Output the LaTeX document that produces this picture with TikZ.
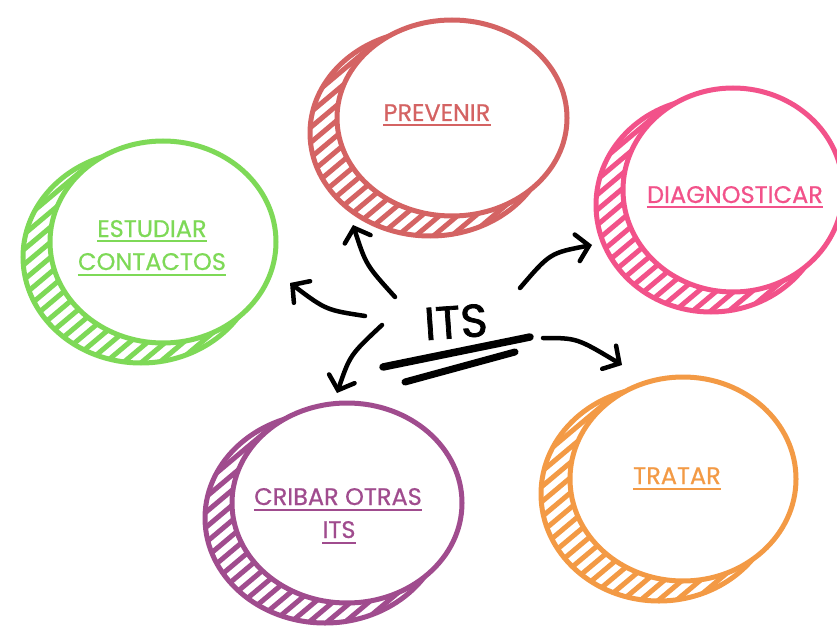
\documentclass[tikz,border=0pt]{standalone}
\usepackage{fontspec}
\setmainfont{Poppins}
\newfontfamily\lblfont[FakeBold=0.6]{Poppins}
\newfontfamily\itsfont[FakeBold=1.6]{Poppins}
\usetikzlibrary{arrows.meta}
\definecolor{cred}{HTML}{D46363}
\definecolor{cpink}{HTML}{F2528A}
\definecolor{corange}{HTML}{F39A45}
\definecolor{cpurple}{HTML}{A04C8E}
\definecolor{cgreen}{HTML}{7ED957}
\newcommand{\blob}[9]{%
  \begin{scope}
    \clip (#5,#6) ellipse [x radius=#7, y radius=#8];
    \foreach \k in {-324,-306,...,324}
      \draw[#9, line width=5pt] ({#5+\k-150},{#6+126}) -- ({#5+\k+150},{#6-126});
  \end{scope}
  \draw[#9, line width=5pt] (#5,#6) ellipse [x radius=#7, y radius=#8];
  \fill[white] (#1,#2) ellipse [x radius=#3, y radius=#4];
  \draw[#9, line width=5pt] (#1,#2) ellipse [x radius=#3, y radius=#4];
}
\newcommand{\undr}[2]{\draw[#2, line width=2pt] ([yshift=-4.5pt]#1.base west) -- ([yshift=-4.5pt]#1.base east);}
\tikzset{
  lbl/.style={font=\lblfont\fontsize{24}{24}\selectfont, inner sep=0pt, anchor=base},
  arr/.style={line width=4.5pt, line cap=round, line join=round, -{Straight Barb[length=12pt,width=27pt,line cap=round]}},
  bar/.style={line width=7.5pt, line cap=round},
}
\begin{document}
\begin{tikzpicture}[x=1pt,y=-1pt]
\useasboundingbox (0,0) rectangle (837,628);
% blobs
\blob{452}{118}{115}{98}{430}{133}{120}{103}{cred}
\blob{733}{190}{110}{102}{711}{205}{115}{107}{cpink}
\blob{163}{242}{113}{101}{141}{257}{118}{106}{cgreen}
\blob{347}{503}{115}{100}{325}{518}{120}{105}{cpurple}
\blob{683}{479}{113}{102}{659}{494}{118}{107}{corange}
% labels
\node[lbl, text=cred] (prev) at (437,121) {PREVENIR};
\undr{prev}{cred}
\node[lbl, text=cpink] (diag) at (735,203) {DIAGNOSTICAR};
\undr{diag}{cpink}
\node[lbl, text=cgreen] (est1) at (152,237) {ESTUDIAR};
\undr{est1}{cgreen}
\node[lbl, text=cgreen] (est2) at (152,270) {CONTACTOS};
\undr{est2}{cgreen}
\node[lbl, text=cpurple] (crib1) at (338,505) {CRIBAR OTRAS};
\undr{crib1}{cpurple}
\node[lbl, text=cpurple] (crib2) at (339,538) {ITS};
\undr{crib2}{cpurple}
\node[lbl, text=corange] (trat) at (677,484) {TRATAR};
\undr{trat}{corange}
% center
\node[font=\itsfont\fontsize{46}{46}\selectfont, inner sep=0pt, anchor=base, rotate=4] (its) at (457,338) {ITS};
\coordinate (u1a) at (383,367); \coordinate (u1b) at (530,337);
\coordinate (u2a) at (405,382); \coordinate (u2b) at (515,352);
\draw[bar] (u1a) -- (u1b);
\draw[bar, line width=7pt] (u2a) -- (u2b);
% arrows
\coordinate (a1s) at (395,297); \coordinate (a1e) at (353,225);
\coordinate (a2s) at (365,316); \coordinate (a2e) at (290,283);
\coordinate (a3s) at (382,325); \coordinate (a3e) at (337,393);
\coordinate (a4s) at (520,288); \coordinate (a4e) at (592,245);
\coordinate (a5s) at (543,338); \coordinate (a5e) at (622,365);
\draw[arr] (a1s) .. controls (366,265) .. (a1e);
\draw[arr] (a2s) .. controls (326,310) .. (a2e);
\draw[arr] (a3s) .. controls (350,355) .. (a3e);
\draw[arr] (a4s) .. controls (550,253) .. (a4e);
\draw[arr] (a5s) .. controls (577,338) .. (a5e);
\end{tikzpicture}
\end{document}
